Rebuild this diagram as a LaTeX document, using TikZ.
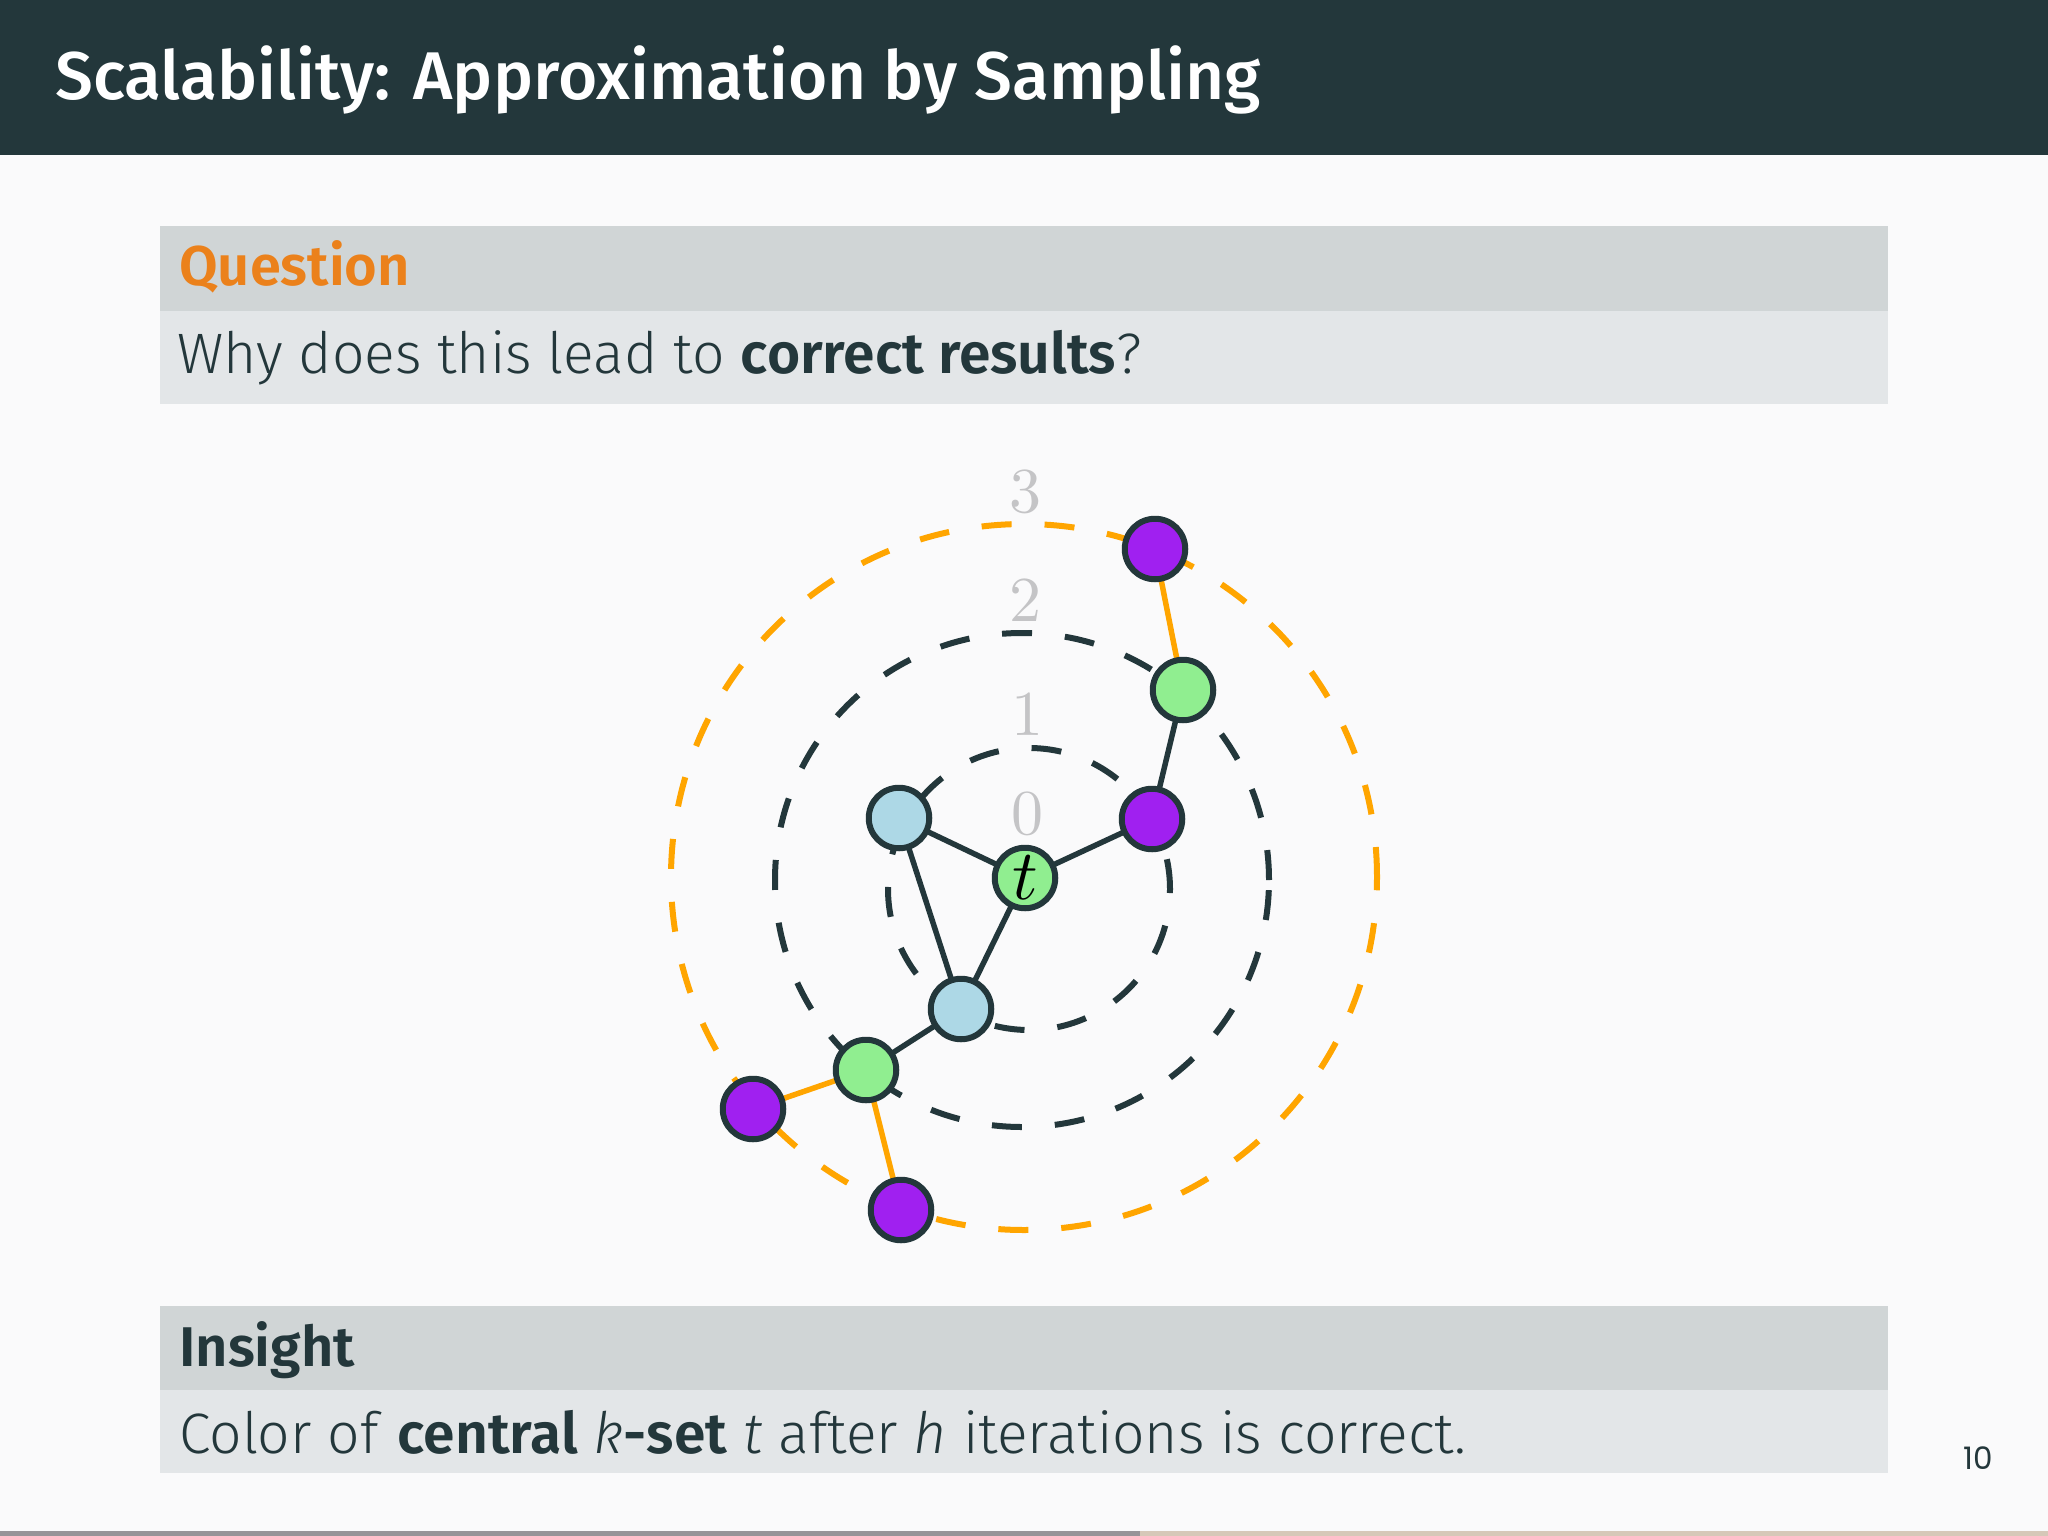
\documentclass[tikz,border=0pt]{standalone}
\usepackage{fontspec}
\usepackage{unicode-math}
\setmathfont{Latin Modern Math}
\setmainfont{Fira Sans Light}[BoldFont={Fira Sans SemiBold}, ItalicFont={Fira Sans Light Italic}, BoldItalicFont={Fira Sans SemiBold Italic}]
\newfontfamily\titlefont{Fira Sans Medium}
\newfontfamily\pagefont{Poppins}
\definecolor{dteal}{HTML}{23373B}
\definecolor{morange}{HTML}{EB811B}
\definecolor{hdrbg}{RGB}{208,213,214}
\definecolor{bodybg}{RGB}{227,230,232}
\definecolor{slidebg}{RGB}{250,250,251}
\definecolor{ringorange}{HTML}{FFA500}
\definecolor{nblue}{HTML}{ADD8E6}
\definecolor{ngreen}{HTML}{90EE90}
\definecolor{npurple}{HTML}{A020F0}
\definecolor{lbl}{RGB}{196,196,198}
\definecolor{bargrey}{RGB}{150,148,152}
\definecolor{barbeige}{RGB}{214,200,184}
\pgfdeclarelayer{bglayer}
\pgfdeclarelayer{ringlayer}
\pgfdeclarelayer{edgelayer}
\pgfsetlayers{bglayer,ringlayer,edgelayer,main}
\tikzset{
  vtx/.style={circle, draw=dteal, line width=6pt, minimum size=60.5pt, inner sep=0pt},
  bluev/.style={vtx, fill=nblue},
  greenv/.style={vtx, fill=ngreen},
  purplev/.style={vtx, fill=npurple},
  ringline/.style={dash pattern=on 30pt off 33pt, line width=6pt},
  darkedge/.style={draw=dteal, line width=5.5pt},
  orangeedge/.style={draw=ringorange, line width=5.5pt},
  txt/.style={anchor=base west, inner sep=0pt, text=dteal},
  lvl/.style={inner sep=0pt, text=lbl, font=\fontsize{64}{64}\selectfont}
}
\begin{document}
\begin{tikzpicture}[x=1pt,y=-1pt]
\useasboundingbox (0,0) rectangle (2048,1536);
\begin{pgfonlayer}{bglayer}
\fill[slidebg] (0,0) rectangle (2048,1536);
\end{pgfonlayer}
% title bar
\fill[dteal] (0,0) rectangle (2048,155);
\node[txt, text=white, font=\titlefont\fontsize{67.5}{67.5}\selectfont] (title) at (55,100) {Scalability: Approximation by Sampling};
% question block
\fill[hdrbg] (160,226) rectangle (1888,311);
\fill[bodybg] (160,311) rectangle (1888,404);
\node[txt, text=morange, font=\fontsize{56}{56}\selectfont\bfseries] (qtitle) at (179,285) {Question};
\node[txt, font=\fontsize{57}{57}\selectfont] (qbody) at (177,373) {Why does this lead to \textbf{correct results}?};
% insight block
\fill[hdrbg] (160,1306) rectangle (1888,1390);
\fill[bodybg] (160,1390) rectangle (1888,1473);
\node[txt, font=\fontsize{56}{56}\selectfont\bfseries] (ititle) at (179,1366) {Insight};
\node[txt, font=\fontsize{57}{57}\selectfont] (ibody) at (179,1453) {Color of \textbf{central} \textit{k}\textbf{-set} \textit{t} after \textit{h} iterations is correct.};
% page number
\node[txt, font=\pagefont\fontsize{31}{31}\selectfont] (pnum) at (1963,1469) {10};
% progress bar
\fill[bargrey] (0,1531) rectangle (1140,1536);
\fill[barbeige] (1140,1531) rectangle (2048,1536);
% graph nodes
\node[greenv] (t) at (1025,878) {\fontsize{71}{71}\selectfont$t$};
\node[bluev] (b1) at (899,818) {};
\node[purplev] (p1) at (1152,819) {};
\node[greenv] (g1) at (1183,690) {};
\node[purplev] (p2) at (1155,549) {};
\node[bluev] (b2) at (961,1009) {};
\node[greenv] (g2) at (866,1070) {};
\node[purplev] (p3) at (753,1109) {};
\node[purplev] (p4) at (901,1210) {};
% level labels
\node[lvl] (l0) at (1027,814) {$0$};
\node[lvl] (l1) at (1027,714) {$1$};
\node[lvl] (l2) at (1025,600) {$2$};
\node[lvl] (l3) at (1025,492) {$3$};
\begin{pgfonlayer}{ringlayer}
\draw[ringline, dteal] (1029,889) circle[radius=141pt];
\draw[ringline, dteal] (1022,880) circle[radius=247pt];
\draw[ringline, ringorange] (1024,877) circle[radius=353pt];
\end{pgfonlayer}
\begin{pgfonlayer}{edgelayer}
\draw[darkedge] (b1.center) -- (t.center);
\draw[darkedge] (t.center) -- (p1.center);
\draw[darkedge] (p1.center) -- (g1.center);
\draw[orangeedge] (g1.center) -- (p2.center);
\draw[darkedge] (b1.center) -- (b2.center);
\draw[darkedge] (t.center) -- (b2.center);
\draw[darkedge] (b2.center) -- (g2.center);
\draw[orangeedge] (g2.center) -- (p3.center);
\draw[orangeedge] (g2.center) -- (p4.center);
\end{pgfonlayer}
\end{tikzpicture}
\end{document}
